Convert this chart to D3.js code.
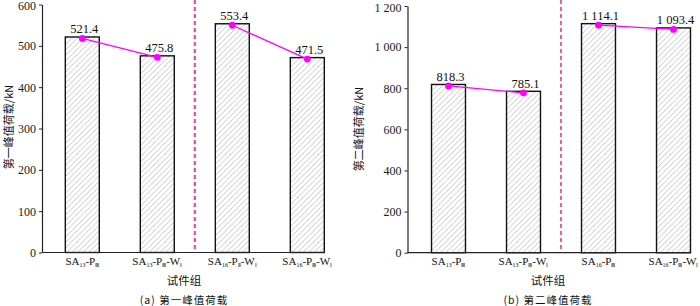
<!DOCTYPE html>
<html>
<head>
<meta charset="utf-8">
<script src="https://cdn.jsdelivr.net/npm/d3@7"></script>
<style>
  body { margin: 0; background: #fff; }
  svg { display: block; }
  .tick text { font-family: "Liberation Serif", "Times New Roman", serif; font-size: 12px; fill: #1a1a1a; }
</style>
</head>
<body>
<svg id="canvas" width="700" height="306"></svg>
<script>
// data
const groupsA = [["SA", "13", "-P", "Ⅲ"], ["SA", "13", "-P", "Ⅲ", "-W", "Ⅰ"], ["SA", "16", "-P", "Ⅱ", "-W", "Ⅰ"], ["SA", "16", "-P", "Ⅲ", "-W", "Ⅰ"]]
const groupsB = [["SA", "13", "-P", "Ⅲ"], ["SA", "13", "-P", "Ⅲ", "-W", "Ⅰ"], ["SA", "16", "-P", "Ⅲ"], ["SA", "16", "-P", "Ⅲ", "-W", "Ⅰ"]]
const valuesA = [521.4, 475.8, 553.4, 471.5]
const valuesB = [818.3, 785.1, 1114.1, 1093.4]
const ticksA = [0, 100, 200, 300, 400, 500, 600]
const ticksB = [0, 200, 400, 600, 800, 1000, 1200]
const yTitleA = "第一峰值荷载/kN"
const yTitleB = "第二峰值荷载/kN"
const xTitle = "试件组"
const captionA = "(a)  第一峰值荷载"
const captionB = "(b)  第二峰值荷载"

const serif = '"Liberation Serif", "Times New Roman", serif'
const cjk = '"Noto Sans CJK SC", sans-serif'
const fmt = v => {
    // thousands separated by a space, one decimal
    const s = v.toFixed(1).split('.')
    return s[0].replace(/\B(?=(\d{3})+(?!\d))/g, ' ') + '.' + s[1]
}
const fmtTick = v => String(v).replace(/\B(?=(\d{3})+(?!\d))/g, ' ')

var svg = d3.select("#canvas")

// hatch
svg.append("defs").append("pattern")
    .attr("id", "hatch")
    .attr("patternUnits", "userSpaceOnUse")
    .attr("width", 5.5)
    .attr("height", 5.5)
    .call(p => {
        p.append("rect").attr("width", 5.5).attr("height", 5.5).attr("fill", "#fff")
        p.append("path")
            .attr("d", "M-1,1 L1,-1 M0,5.5 L5.5,0 M4.5,6.5 L6.5,4.5")
            .attr("stroke", "#a0a0a0")
            .attr("stroke-width", 0.6)
    })

function panel(opt) {
    const g = svg.append("g")

    const y = d3.scaleLinear()
        .domain([0, opt.ticks[opt.ticks.length - 1]])
        .range([opt.y0, opt.y1])

    const x = d3.scaleBand()
        .domain(d3.range(opt.values.length))
        .range(opt.xRange)
        .paddingInner(0.547)
        .paddingOuter(0.2735)

    const cx = i => x(i) + x.bandwidth() / 2

    // divider
    const dx = (x(1) + x.bandwidth() + x(2)) / 2
    g.append("line")
        .attr("x1", dx)
        .attr("x2", dx)
        .attr("y1", 0)
        .attr("y2", opt.y0)
        .attr("stroke", opt.divColor)
        .attr("stroke-width", opt.divWidth)
        .attr("stroke-dasharray", "4,3")

    // bars
    g.selectAll(".bar")
        .data(opt.values)
        .enter()
        .append("rect")
        .attr("x", (d, i) => x(i))
        .attr("y", d => y(d))
        .attr("width", x.bandwidth())
        .attr("height", d => opt.y0 - y(d))
        .attr("fill", "url(#hatch)")
        .attr("stroke", "#111")
        .attr("stroke-width", 1.4)

    // y axis
    g.append("g")
        .attr("transform", "translate(" + opt.axisX + ",0)")
        .call(d3.axisLeft(y).tickValues(opt.ticks).tickSize(3).tickSizeOuter(0).tickPadding(3).tickFormat(fmtTick))
        .call(a => a.select(".domain").attr("stroke", "#222").attr("stroke-width", 1.2))
        .call(a => a.selectAll(".tick line").attr("stroke", "#222"))
        .call(a => a.selectAll(".tick text").filter(d => d === opt.ticks[opt.ticks.length - 1]).attr("dy", "0.42em"))

    // x axis line
    g.append("line")
        .attr("x1", opt.axisX)
        .attr("x2", x(opt.values.length - 1) + x.bandwidth())
        .attr("y1", opt.y0)
        .attr("y2", opt.y0)
        .attr("stroke", "#222")
        .attr("stroke-width", 1.2)

    // x labels with subscripts
    g.selectAll(".xl")
        .data(opt.groups)
        .enter()
        .append("text")
        .attr("x", (d, i) => cx(i))
        .attr("y", opt.y0 + 12)
        .attr("text-anchor", "middle")
        .attr("font-family", serif)
        .attr("font-size", 11)
        .attr("fill", "#111")
        .each(function (d) {
            const t = d3.select(this)
            d.forEach((s, k) => {
                const sub = k % 2 === 1
                t.append("tspan")
                    .attr("font-size", sub ? 6 : 11)
                    .attr("dy", sub ? 2 : (k > 0 ? -2 : 0))
                    .text(s)
            })
        })

    // magenta line
    const pts = opt.values.map((v, i) => [cx(i), y(v) + 1.5])
    g.append("path")
        .attr("d", d3.line()(pts.slice(0, 2)))
        .attr("fill", "none").attr("stroke", "#ff00ff").attr("stroke-width", 1.3)
    g.append("path")
        .attr("d", d3.line()(pts.slice(2, 4)))
        .attr("fill", "none").attr("stroke", "#ff00ff").attr("stroke-width", 1.3)
    g.selectAll(".pt")
        .data(pts)
        .enter()
        .append("circle")
        .attr("cx", d => d[0])
        .attr("cy", d => d[1])
        .attr("r", 3.4)
        .attr("fill", "#ff00ff")

    // value labels
    g.selectAll(".vl")
        .data(opt.values)
        .enter()
        .append("text")
        .attr("x", (d, i) => cx(i) + 2)
        .attr("y", d => y(d) - 3.5)
        .attr("text-anchor", "middle")
        .attr("font-family", serif)
        .attr("font-size", 12.5)
        .attr("fill", "#111")
        .text(d => fmt(d))

    // y title
    g.append("text")
        .attr("transform", "translate(" + opt.titleX + "," + opt.titleY + ") rotate(-90)")
        .attr("text-anchor", "middle")
        .attr("font-family", cjk)
        .attr("font-size", 11)
        .attr("fill", "#111")
        .text(opt.yTitle)

    // x title and caption
    g.append("text")
        .attr("x", opt.midX).attr("y", 285)
        .attr("text-anchor", "middle")
        .attr("font-family", cjk)
        .attr("font-size", 11.5)
        .attr("fill", "#111")
        .text(xTitle)
    g.append("text")
        .attr("x", opt.midX).attr("y", 304)
        .attr("text-anchor", "middle")
        .attr("font-family", cjk)
        .attr("font-size", 10.5)
        .attr("letter-spacing", 1)
        .attr("fill", "#111")
        .text(opt.caption)
}

panel({
    values: valuesA, groups: groupsA, ticks: ticksA,
    y0: 252.5, y1: 4.5, axisX: 42, xRange: [44.8, 344.8],
    divColor: "#f2479a", divWidth: 2.2,
    yTitle: yTitleA, titleX: 13, titleY: 127,
    midX: 184, caption: captionA
})

panel({
    values: valuesB, groups: groupsB, ticks: ticksB,
    y0: 252.7, y1: 6, axisX: 407.5, xRange: [411, 711],
    divColor: "#ee2a7b", divWidth: 1.5,
    yTitle: yTitleB, titleX: 363, titleY: 129,
    midX: 548, caption: captionB
})
</script>
</body>
</html>
